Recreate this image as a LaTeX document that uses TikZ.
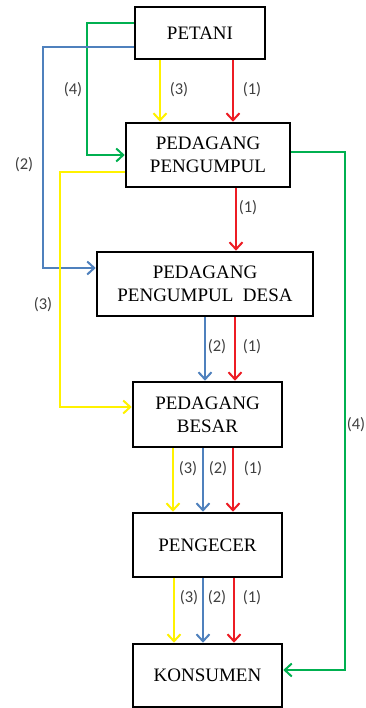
\documentclass[tikz,border=0pt]{standalone}
\usepackage{fontspec}
\setmainfont{Liberation Serif}
\newfontfamily\labfont{Carlito}
\usetikzlibrary{arrows.meta}
\definecolor{cred}{RGB}{237,28,36}
\definecolor{cyel}{RGB}{255,242,0}
\definecolor{cblue}{RGB}{79,129,189}
\definecolor{cgreen}{RGB}{0,176,80}
\definecolor{clab}{RGB}{64,64,64}
\begin{document}
\begin{tikzpicture}[x=1pt,y=-1pt,
  box/.style={draw=black,line width=2.6pt,fill=white,inner sep=0pt,align=center,
    font=\fontsize{19}{23}\selectfont},
  conn/.style={line width=2pt,-{Straight Barb[length=7pt,width=13pt,line width=2pt]}},
  ar/.style={conn,draw=cred},
  ay/.style={conn,draw=cyel},
  ab/.style={conn,draw=cblue},
  ag/.style={conn,draw=cgreen},
  lab/.style={font=\labfont\fontsize{16.5}{19}\selectfont,text=clab,inner sep=0pt}]
\useasboundingbox (0,0) rectangle (366,708);
\fill[white] (0,0) rectangle (366,708);
% boxes
\node[box,minimum width=130pt,minimum height=52pt] (pet) at (200,33) {PETANI};
\node[box,minimum width=164pt,minimum height=64pt] (pp) at (208,155) {PEDAGANG\\PENGUMPUL};
\node[box,minimum width=216pt,minimum height=64pt] (ppd) at (205,284) {PEDAGANG\\PENGUMPUL\enspace DESA};
\node[box,minimum width=149pt,minimum height=65pt] (pb) at (207.5,414.5) {PEDAGANG\\BESAR};
\node[box,minimum width=149pt,minimum height=64pt] (pg) at (207.5,545) {PENGECER};
\node[box,minimum width=149pt,minimum height=63pt] (kon) at (207.5,675.5) {KONSUMEN};
% helper coordinates
\coordinate (gL) at (87,23);
\coordinate (bL) at (43,47);
\coordinate (bE) at (0,268);
\coordinate (yL) at (60,172);
\coordinate (yE) at (0,407);
\coordinate (gR) at (345,152);
\coordinate (gE) at (0,670);
\coordinate (x160) at (160,0);
\coordinate (x233) at (233,0);
\coordinate (x236) at (236,0);
\coordinate (x205) at (205,0);
\coordinate (x235) at (235,0);
\coordinate (x173) at (173,0);
\coordinate (x203) at (203,0);
\coordinate (x174) at (174,0);
\coordinate (x234) at (234,0);
% side routes
\draw[ag] (pet.west |- gL) -- (gL) |- (pp.west);
\draw[ab] (pet.west |- bL) -- (bL) |- (ppd.west |- bE);
\draw[ay] (pp.west |- yL) -- (yL) |- (pb.west |- yE);
\draw[ag] (pp.east |- gR) -- (gR) |- (kon.east |- gE);
% vertical flows
\draw[ay] (pet.south -| x160) -- (pp.north -| x160);
\draw[ar] (pet.south -| x233) -- (pp.north -| x233);
\draw[ar] (pp.south -| x236) -- (ppd.north -| x236);
\draw[ab] (ppd.south -| x205) -- (pb.north -| x205);
\draw[ar] (ppd.south -| x235) -- (pb.north -| x235);
\draw[ay] (pb.south -| x173) -- (pg.north -| x173);
\draw[ab] (pb.south -| x203) -- (pg.north -| x203);
\draw[ar] (pb.south -| x233) -- (pg.north -| x233);
\draw[ay] (pg.south -| x174) -- (kon.north -| x174);
\draw[ab] (pg.south -| x203) -- (kon.north -| x203);
\draw[ar] (pg.south -| x234) -- (kon.north -| x234);
% labels
\node[lab] (l1) at (73,90) {(4)};
\node[lab] (l2) at (179,90) {(3)};
\node[lab] (l3) at (252,90) {(1)};
\node[lab] (l4) at (24,165) {(2)};
\node[lab] (l5) at (248,208) {(1)};
\node[lab] (l6) at (43,305) {(3)};
\node[lab] (l7) at (217,347) {(2)};
\node[lab] (l8) at (252,347) {(1)};
\node[lab] (l9) at (356,425) {(4)};
\node[lab] (l10) at (188,469) {(3)};
\node[lab] (l11) at (218,469) {(2)};
\node[lab] (l12) at (253,469) {(1)};
\node[lab] (l13) at (189,598) {(3)};
\node[lab] (l14) at (217,598) {(2)};
\node[lab] (l15) at (252,598) {(1)};
\end{tikzpicture}
\end{document}
